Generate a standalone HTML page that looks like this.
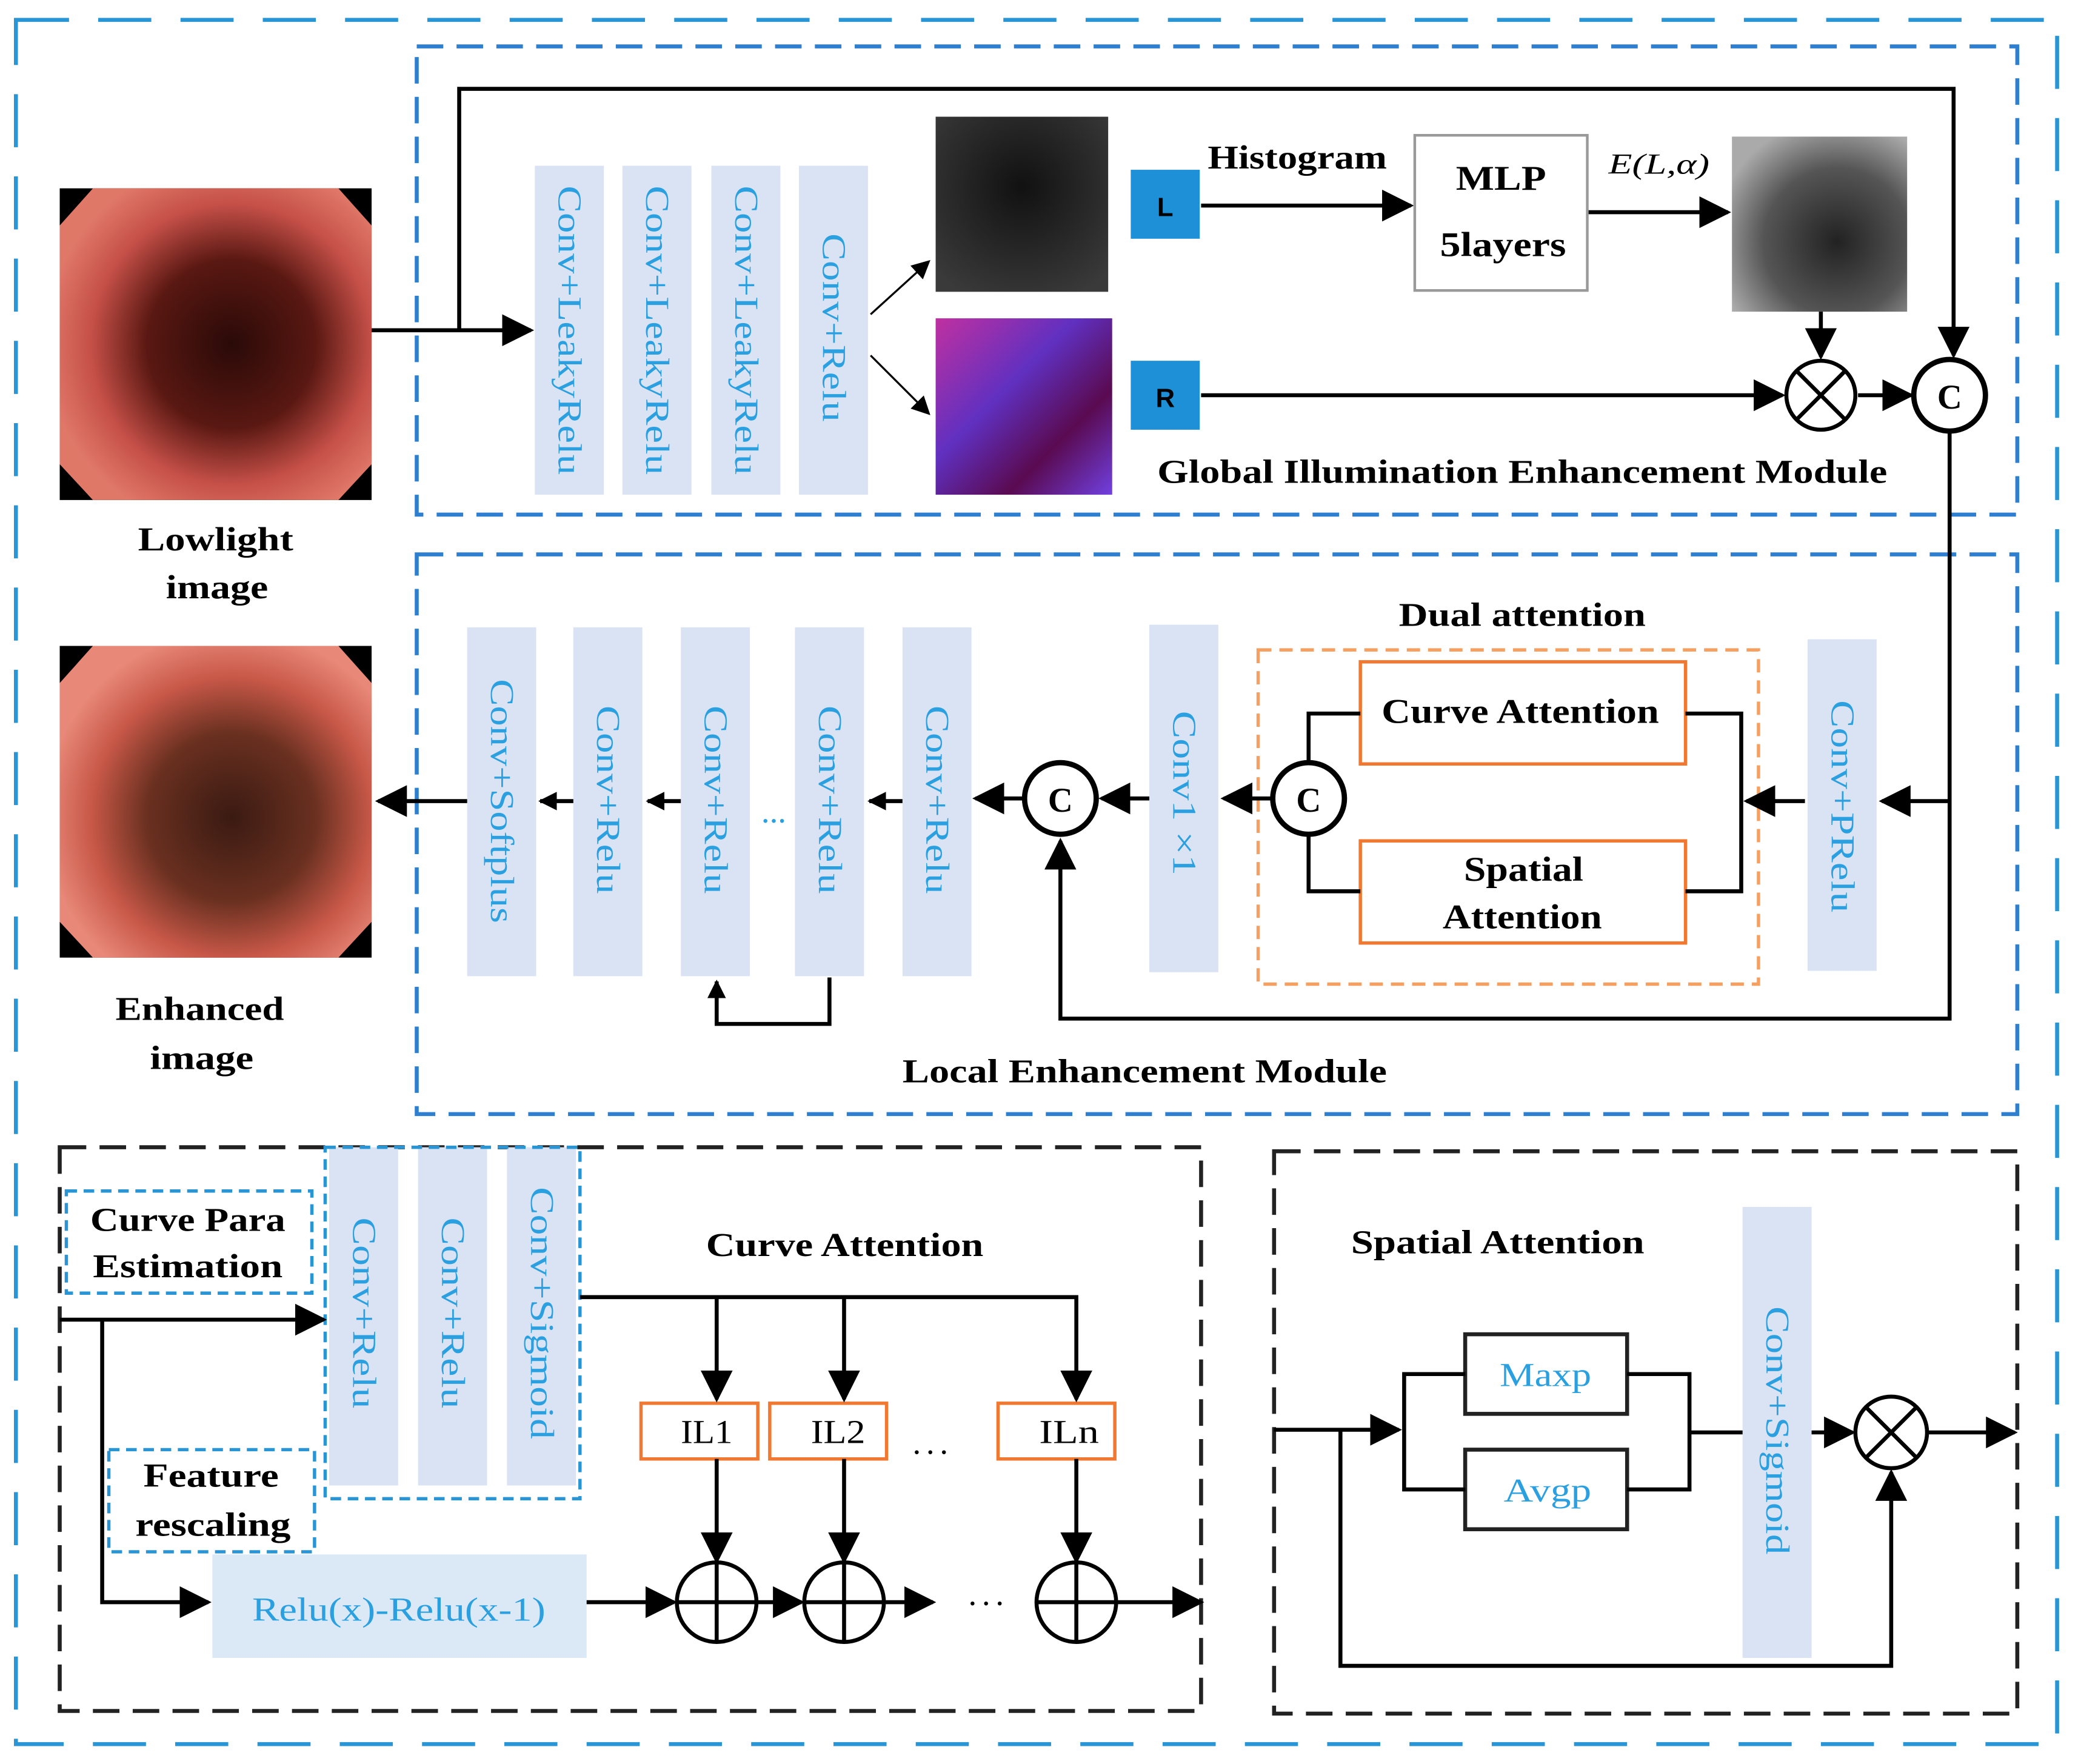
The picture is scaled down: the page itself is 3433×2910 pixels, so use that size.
<!DOCTYPE html>
<html><head><meta charset="utf-8"><style>
html,body{margin:0;padding:0;background:#fff;}
svg{display:block;}
text{font-family:"Liberation Serif",serif;}
</style></head><body>
<svg width="3433" height="2910" viewBox="0 0 1568 1330" preserveAspectRatio="none" xmlns="http://www.w3.org/2000/svg">
<defs>
<marker id="A" viewBox="0 0 10 10" refX="9" refY="5" markerWidth="24" markerHeight="24" orient="auto" markerUnits="userSpaceOnUse"><path d="M0,0L10,5L0,10z" fill="#000"/></marker>
<marker id="s" viewBox="0 0 10 10" refX="9" refY="5" markerWidth="14" markerHeight="14" orient="auto" markerUnits="userSpaceOnUse"><path d="M0,0L10,5L0,10z" fill="#000"/></marker>
<radialGradient id="red" cx="0.55" cy="0.5" r="0.6"><stop offset="0" stop-color="#2a0a08"/><stop offset="0.45" stop-color="#5a1812"/><stop offset="0.75" stop-color="#c55048"/><stop offset="1" stop-color="#e07868"/></radialGradient>
<radialGradient id="enh" cx="0.55" cy="0.55" r="0.6"><stop offset="0" stop-color="#3a1a12"/><stop offset="0.45" stop-color="#6a3020"/><stop offset="0.75" stop-color="#c85848"/><stop offset="1" stop-color="#e88878"/></radialGradient>
<radialGradient id="dk" cx="0.5" cy="0.4" r="0.7"><stop offset="0" stop-color="#111"/><stop offset="1" stop-color="#3a3a3a"/></radialGradient>
<radialGradient id="gr" cx="0.6" cy="0.6" r="0.7"><stop offset="0" stop-color="#222"/><stop offset="0.6" stop-color="#555"/><stop offset="1" stop-color="#aaa"/></radialGradient>
<linearGradient id="col" x1="0" y1="0" x2="1" y2="1"><stop offset="0" stop-color="#c030a0"/><stop offset="0.4" stop-color="#6030c0"/><stop offset="0.7" stop-color="#5a0a50"/><stop offset="1" stop-color="#7040e0"/></linearGradient>
</defs>

<rect x="12" y="15" width="1538" height="1300" fill="none" stroke="#2a95d5" stroke-width="3" stroke-dasharray="40,22"/>
<rect x="314" y="35" width="1206" height="353" fill="none" stroke="#2f7fd0" stroke-width="3" stroke-dasharray="20,10"/>
<rect x="314" y="418" width="1206" height="422" fill="none" stroke="#2f7fd0" stroke-width="3" stroke-dasharray="20,10"/>
<rect x="45" y="865" width="860" height="425" fill="none" stroke="#222" stroke-width="3" stroke-dasharray="20,10"/>
<rect x="960" y="868" width="560" height="424" fill="none" stroke="#222" stroke-width="3" stroke-dasharray="20,10"/>

<rect x="45" y="142" width="235" height="235" fill="#000"/>
<polygon points="70,142 255,142 280,170 280,350 255,377 70,377 45,350 45,170" fill="url(#red)"/>
<rect x="45" y="487" width="235" height="235" fill="#000"/>
<polygon points="70,487 255,487 280,515 280,695 255,722 70,722 45,695 45,515" fill="url(#enh)"/>
<rect x="705" y="88" width="130" height="132" fill="url(#dk)"/>
<rect x="705" y="240" width="133" height="133" fill="url(#col)"/>
<rect x="1305" y="103" width="132" height="132" fill="url(#gr)"/>

<g font-size="25" font-weight="bold">
<text x="104" y="415" textLength="117" lengthAdjust="spacingAndGlyphs">Lowlight</text>
<text x="125" y="451" textLength="77" lengthAdjust="spacingAndGlyphs">image</text>
<text x="87" y="769" textLength="127" lengthAdjust="spacingAndGlyphs">Enhanced</text>
<text x="113" y="806" textLength="78" lengthAdjust="spacingAndGlyphs">image</text>
</g>

<g fill="#dae3f3">
<rect x="403" y="125" width="52" height="248"/><rect x="469" y="125" width="52" height="248"/>
<rect x="536" y="125" width="52" height="248"/><rect x="602" y="125" width="52" height="248"/>
</g>
<g font-size="25" fill="#2aa0e0">
<text transform="translate(421,140) rotate(90)" textLength="218" lengthAdjust="spacingAndGlyphs">Conv+LeakyRelu</text>
<text transform="translate(487,140) rotate(90)" textLength="218" lengthAdjust="spacingAndGlyphs">Conv+LeakyRelu</text>
<text transform="translate(554,140) rotate(90)" textLength="218" lengthAdjust="spacingAndGlyphs">Conv+LeakyRelu</text>
<text transform="translate(620,176) rotate(90)" textLength="142" lengthAdjust="spacingAndGlyphs">Conv+Relu</text>
</g>

<g stroke="#000" stroke-width="3" fill="none">
<line x1="280" y1="249" x2="400" y2="249" marker-end="url(#A)"/>
<polyline points="346,249 346,67 1472,67 1472,268" marker-end="url(#A)"/>
<line x1="656" y1="237" x2="700" y2="197" stroke-width="1.5" marker-end="url(#s)"/>
<line x1="656" y1="268" x2="700" y2="312" stroke-width="1.5" marker-end="url(#s)"/>
<line x1="905" y1="155" x2="1063" y2="155" marker-end="url(#A)"/>
<line x1="1196" y1="160" x2="1302" y2="160" marker-end="url(#A)"/>
<line x1="905" y1="298" x2="1343" y2="298" marker-end="url(#A)"/>
<line x1="1372" y1="235" x2="1372" y2="269" marker-end="url(#A)"/>
<line x1="1400" y1="298" x2="1440" y2="298" marker-end="url(#A)"/>
</g>
<rect x="852" y="128" width="52" height="52" fill="#1e90d8"/>
<rect x="852" y="272" width="52" height="52" fill="#1e90d8"/>
<text x="878" y="163" font-size="20" font-weight="bold" text-anchor="middle" style="font-family:'Liberation Sans'">L</text>
<text x="878" y="307" font-size="20" font-weight="bold" text-anchor="middle" style="font-family:'Liberation Sans'">R</text>
<text x="910" y="127" font-size="25" font-weight="bold" textLength="135" lengthAdjust="spacingAndGlyphs">Histogram</text>
<rect x="1066" y="102" width="130" height="117" fill="#fff" stroke="#999" stroke-width="2"/>
<text x="1097" y="143" font-size="26" font-weight="bold" textLength="68" lengthAdjust="spacingAndGlyphs">MLP</text>
<text x="1085" y="193" font-size="26" font-weight="bold" textLength="95" lengthAdjust="spacingAndGlyphs">5layers</text>
<text x="1212" y="131" font-size="22" font-style="italic" textLength="76" lengthAdjust="spacingAndGlyphs">E(L,α)</text>
<circle cx="1372" cy="298" r="26" fill="#fff" stroke="#000" stroke-width="3"/>
<path d="M1354,280L1390,316M1390,280L1354,316" stroke="#000" stroke-width="3"/>
<circle cx="1469" cy="298" r="27" fill="#fff" stroke="#000" stroke-width="4"/>
<text x="1469" y="308" font-size="26" font-weight="bold" text-anchor="middle">C</text>
<text x="872" y="364" font-size="25" font-weight="bold" textLength="550" lengthAdjust="spacingAndGlyphs">Global Illumination Enhancement Module</text>

<g fill="#dae3f3">
<rect x="352" y="473" width="52" height="263"/><rect x="432" y="473" width="52" height="263"/>
<rect x="513" y="473" width="52" height="263"/><rect x="599" y="473" width="52" height="263"/>
<rect x="680" y="473" width="52" height="263"/><rect x="866" y="471" width="52" height="262"/>
<rect x="1362" y="482" width="52" height="250"/>
</g>
<g font-size="25" fill="#2aa0e0">
<text transform="translate(370,512) rotate(90)" textLength="184" lengthAdjust="spacingAndGlyphs">Conv+Softplus</text>
<text transform="translate(450,532) rotate(90)" textLength="142" lengthAdjust="spacingAndGlyphs">Conv+Relu</text>
<text transform="translate(531,532) rotate(90)" textLength="142" lengthAdjust="spacingAndGlyphs">Conv+Relu</text>
<text transform="translate(617,532) rotate(90)" textLength="142" lengthAdjust="spacingAndGlyphs">Conv+Relu</text>
<text transform="translate(698,532) rotate(90)" textLength="142" lengthAdjust="spacingAndGlyphs">Conv+Relu</text>
<text transform="translate(884,536) rotate(90)" textLength="124" lengthAdjust="spacingAndGlyphs">Conv1 ×1</text>
<text transform="translate(1380,528) rotate(90)" textLength="160" lengthAdjust="spacingAndGlyphs">Conv+PRelu</text>
</g>
<text x="583" y="620" font-size="25" fill="#2aa0e0" text-anchor="middle">...</text>
<text x="1054" y="472" font-size="25" font-weight="bold" textLength="186" lengthAdjust="spacingAndGlyphs">Dual attention</text>
<rect x="948" y="490" width="377" height="252" fill="none" stroke="#f5a060" stroke-width="2.5" stroke-dasharray="10,6"/>
<rect x="1025" y="499" width="245" height="77" fill="#fff" stroke="#f07830" stroke-width="2.5"/>
<rect x="1025" y="634" width="245" height="77" fill="#fff" stroke="#f07830" stroke-width="2.5"/>
<text x="1041" y="545" font-size="26" font-weight="bold" textLength="209" lengthAdjust="spacingAndGlyphs">Curve Attention</text>
<text x="1103" y="664" font-size="26" font-weight="bold" textLength="90" lengthAdjust="spacingAndGlyphs">Spatial</text>
<text x="1087" y="700" font-size="26" font-weight="bold" textLength="120" lengthAdjust="spacingAndGlyphs">Attention</text>
<g stroke="#000" stroke-width="3" fill="none">
<polyline points="1469,326 1469,768 799,768 799,634" marker-end="url(#A)"/>
<line x1="1469" y1="604" x2="1418" y2="604" marker-end="url(#A)"/>
<line x1="1360" y1="604" x2="1316" y2="604" marker-end="url(#A)"/>
<polyline points="1270,538 1312,538 1312,672 1270,672"/>
<polyline points="1025,538 986,538 986,575"/>
<polyline points="1025,672 986,672 986,629"/>
<line x1="958" y1="602" x2="922" y2="602" marker-end="url(#A)"/>
<line x1="866" y1="602" x2="830" y2="602" marker-end="url(#A)"/>
<line x1="771" y1="602" x2="735" y2="602" marker-end="url(#A)"/>
<line x1="680" y1="604" x2="655" y2="604" marker-end="url(#s)"/>
<line x1="513" y1="604" x2="488" y2="604" marker-end="url(#s)"/>
<line x1="432" y1="604" x2="407" y2="604" marker-end="url(#s)"/>
<line x1="352" y1="604" x2="285" y2="604" marker-end="url(#A)"/>
<polyline points="625,737 625,772 540,772 540,740" marker-end="url(#s)"/>
</g>
<circle cx="799" cy="602" r="27" fill="#fff" stroke="#000" stroke-width="4"/>
<text x="799" y="612" font-size="26" font-weight="bold" text-anchor="middle">C</text>
<circle cx="986" cy="602" r="27" fill="#fff" stroke="#000" stroke-width="4"/>
<text x="986" y="612" font-size="26" font-weight="bold" text-anchor="middle">C</text>
<text x="680" y="816" font-size="25" font-weight="bold" textLength="365" lengthAdjust="spacingAndGlyphs">Local Enhancement Module</text>

<rect x="50" y="898" width="185" height="77" fill="#fff" stroke="#2a95d5" stroke-width="2.5" stroke-dasharray="8,5"/>
<text x="68" y="928" font-size="25" font-weight="bold" textLength="147" lengthAdjust="spacingAndGlyphs">Curve Para</text>
<text x="70" y="963" font-size="25" font-weight="bold" textLength="143" lengthAdjust="spacingAndGlyphs">Estimation</text>
<rect x="82" y="1093" width="155" height="77" fill="#fff" stroke="#2a95d5" stroke-width="2.5" stroke-dasharray="8,5"/>
<text x="108" y="1121" font-size="25" font-weight="bold" textLength="102" lengthAdjust="spacingAndGlyphs">Feature</text>
<text x="102" y="1158" font-size="25" font-weight="bold" textLength="117" lengthAdjust="spacingAndGlyphs">rescaling</text>
<g fill="#dae3f3"><rect x="248" y="865" width="52" height="255"/><rect x="315" y="865" width="52" height="255"/><rect x="382" y="865" width="52" height="255"/></g>
<rect x="245" y="865" width="192" height="265" fill="none" stroke="#2a95d5" stroke-width="2.5" stroke-dasharray="8,5"/>
<g font-size="25" fill="#2aa0e0">
<text transform="translate(266,918) rotate(90)" textLength="144" lengthAdjust="spacingAndGlyphs">Conv+Relu</text>
<text transform="translate(333,918) rotate(90)" textLength="144" lengthAdjust="spacingAndGlyphs">Conv+Relu</text>
<text transform="translate(400,895) rotate(90)" textLength="190" lengthAdjust="spacingAndGlyphs">Conv+Sigmoid</text>
</g>
<text x="532" y="947" font-size="25" font-weight="bold" textLength="209" lengthAdjust="spacingAndGlyphs">Curve Attention</text>
<rect x="160" y="1172" width="282" height="78" fill="#dbe9f7"/>
<text x="190" y="1222" font-size="25" fill="#2aa0e0" textLength="221" lengthAdjust="spacingAndGlyphs">Relu(x)-Relu(x-1)</text>
<g fill="#fff" stroke="#f07830" stroke-width="2.5">
<rect x="483" y="1058" width="88" height="42"/><rect x="580" y="1058" width="88" height="42"/><rect x="752" y="1058" width="88" height="42"/>
</g>
<text x="513" y="1088" font-size="25" textLength="39" lengthAdjust="spacingAndGlyphs">IL1</text>
<text x="611" y="1088" font-size="25" textLength="41" lengthAdjust="spacingAndGlyphs">IL2</text>
<text x="783" y="1088" font-size="25" textLength="45" lengthAdjust="spacingAndGlyphs">ILn</text>
<text x="703" y="1096" font-size="25" text-anchor="middle" letter-spacing="4">...</text>
<text x="745" y="1210" font-size="25" text-anchor="middle" letter-spacing="4">...</text>
<g stroke="#000" stroke-width="3" fill="none">
<line x1="45" y1="995" x2="244" y2="995" marker-end="url(#A)"/>
<polyline points="77,995 77,1208 157,1208" marker-end="url(#A)"/>
<polyline points="437,978 811,978 811,1055" marker-end="url(#A)"/>
<line x1="540" y1="978" x2="540" y2="1055" marker-end="url(#A)"/>
<line x1="636" y1="978" x2="636" y2="1055" marker-end="url(#A)"/>
<line x1="540" y1="1100" x2="540" y2="1177" marker-end="url(#A)"/>
<line x1="636" y1="1100" x2="636" y2="1177" marker-end="url(#A)"/>
<line x1="811" y1="1100" x2="811" y2="1177" marker-end="url(#A)"/>
<line x1="442" y1="1208" x2="508" y2="1208" marker-end="url(#A)"/>
<line x1="570" y1="1208" x2="604" y2="1208" marker-end="url(#A)"/>
<line x1="666" y1="1208" x2="703" y2="1208" marker-end="url(#A)"/>
<line x1="841" y1="1208" x2="905" y2="1208" marker-end="url(#A)"/>
</g>
<g fill="#fff" stroke="#000" stroke-width="3">
<circle cx="540" cy="1208" r="30"/><circle cx="636" cy="1208" r="30"/><circle cx="811" cy="1208" r="30"/>
</g>
<path d="M510,1208H570M540,1178V1238M606,1208H666M636,1178V1238M781,1208H841M811,1178V1238" stroke="#000" stroke-width="3"/>

<text x="1018" y="945" font-size="25" font-weight="bold" textLength="221" lengthAdjust="spacingAndGlyphs">Spatial Attention</text>
<rect x="1313" y="910" width="52" height="340" fill="#dae3f3"/>
<text transform="translate(1331,985) rotate(90)" font-size="25" fill="#2aa0e0" textLength="187" lengthAdjust="spacingAndGlyphs">Conv+Sigmoid</text>
<rect x="1104" y="1006" width="122" height="60" fill="#fff" stroke="#222" stroke-width="3"/>
<rect x="1104" y="1093" width="122" height="60" fill="#fff" stroke="#222" stroke-width="3"/>
<text x="1130" y="1045" font-size="25" fill="#2aa0e0" textLength="69" lengthAdjust="spacingAndGlyphs">Maxp</text>
<text x="1133" y="1132" font-size="25" fill="#2aa0e0" textLength="66" lengthAdjust="spacingAndGlyphs">Avgp</text>
<g stroke="#000" stroke-width="3" fill="none">
<line x1="960" y1="1078" x2="1054" y2="1078" marker-end="url(#A)"/>
<polyline points="1104,1036 1058,1036 1058,1123 1104,1123"/>
<polyline points="1226,1036 1273,1036 1273,1123 1226,1123"/>
<line x1="1273" y1="1080" x2="1313" y2="1080"/>
<line x1="1365" y1="1080" x2="1396" y2="1080" marker-end="url(#A)"/>
<line x1="1453" y1="1080" x2="1518" y2="1080" marker-end="url(#A)"/>
<polyline points="1010,1078 1010,1256 1425,1256 1425,1110" marker-end="url(#A)"/>
</g>
<circle cx="1425" cy="1080" r="27" fill="#fff" stroke="#000" stroke-width="3"/>
<path d="M1406,1061L1444,1099M1444,1061L1406,1099" stroke="#000" stroke-width="3"/>
</svg>
</body></html>
